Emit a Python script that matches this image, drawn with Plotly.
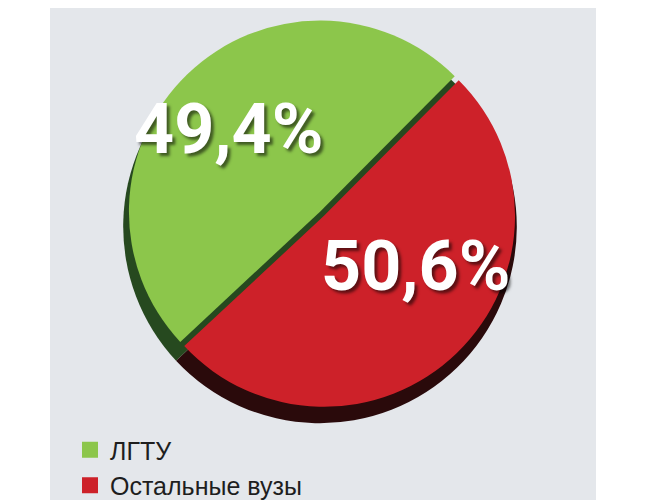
import plotly.graph_objects as go

# доли выпускников
labels = ["ЛГТУ", "Остальные вузы"]
values = [49.4, 50.6]
top_colors = ["#8cc64b", "#cd2129"]
side_colors = ["#26491f", "#2a0a0b"]

# подписи с запятой, как в оригинале
texts = [f"{v:.1f}%".replace(".", ",") for v in values]

W, H = 645, 500
fig = go.Figure()

# "боковина" - тёмный пирог, сдвинутый вниз
fig.add_trace(go.Pie(
    labels=labels, values=values, sort=False, direction="clockwise",
    rotation=227, marker=dict(colors=side_colors, line=dict(width=0)),
    textinfo="none", hoverinfo="skip", showlegend=False,
    domain=dict(x=[112 / W, 512 / W], y=[1 - 422 / H, 1 - 22 / H]),
))

# верхняя грань
fig.add_trace(go.Pie(
    labels=labels, values=values, sort=False, direction="clockwise",
    rotation=227, marker=dict(colors=top_colors, line=dict(width=0)),
    pull=[0, 0.03], textinfo="none", showlegend=False,
    domain=dict(x=[112 / W, 512 / W], y=[1 - 407 / H, 1 - 7 / H]),
))

# легенда с крупными квадратами
for lab, col in zip(labels, top_colors):
    fig.add_trace(go.Scatter(
        x=[None], y=[None], mode="markers", name=lab,
        marker=dict(symbol="square", size=16, color=col, line=dict(width=0)),
    ))

# крупные подписи процентов
label_pos = [(220, 123), (407, 262)]
for t, (px_, py_) in zip(texts, label_pos):
    fig.add_annotation(
        x=px_ / W, y=1 - py_ / H, xref="paper", yref="paper",
        xanchor="center", yanchor="middle",
        text=t, showarrow=False,
        font=dict(family="Roboto, Liberation Sans, sans-serif", weight="bold",
                  size=70, color="white", shadow="3px 3px 3px rgba(0,0,0,0.55)"),
    )

# серая подложка
fig.add_shape(type="rect", xref="paper", yref="paper", x0=42 / W, x1=588 / W,
              y0=0, y1=1, fillcolor="#e4e7eb", line=dict(width=0), layer="below")

fig.update_layout(
    width=W, height=H, margin=dict(l=0, r=0, t=0, b=0),
    paper_bgcolor="white", plot_bgcolor="rgba(0,0,0,0)",
    xaxis=dict(visible=False), yaxis=dict(visible=False),
    legend=dict(x=62 / W, y=1 - 426 / H, xanchor="left", yanchor="top",
                bgcolor="rgba(0,0,0,0)", font=dict(family="Liberation Sans, Arial, sans-serif",
                                                   size=25, color="#1e1e1e"),
                tracegroupgap=0, itemwidth=30, itemsizing="trace"),
)

fig.write_html("out.html")
